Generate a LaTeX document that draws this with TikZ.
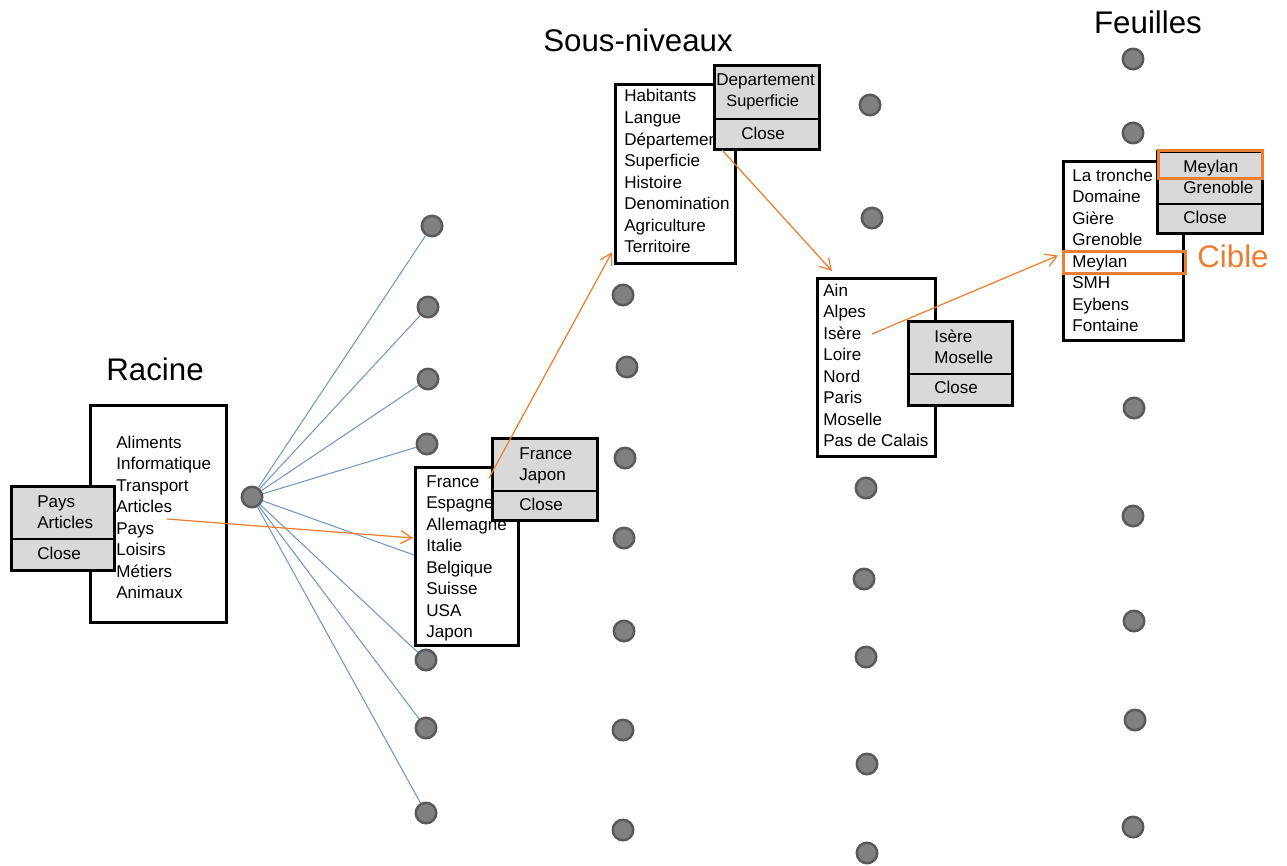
\documentclass[tikz,border=0pt]{standalone}
\usepackage{fontspec}
\setmainfont{Liberation Sans}
\usetikzlibrary{calc,arrows.meta}
\definecolor{orangeoff}{RGB}{237,125,49}
\definecolor{bleulien}{RGB}{114,151,204}
\definecolor{grisfond}{RGB}{217,217,217}
\definecolor{grispoint}{RGB}{128,128,128}
\definecolor{grisbord}{RGB}{89,89,89}
\begin{document}
\begin{tikzpicture}[x=0.02cm,y=-0.02cm,>={Straight Barb[length=2.2mm,width=2.6mm]},
	liste/.style={draw=black, fill=white, line width=1.8pt, anchor=north west, inner sep=0pt},
	menu/.style={draw=black, fill=grisfond, line width=1.8pt, anchor=north west, inner sep=0pt},
	item/.style={anchor=base west, inner sep=0pt, font=\fontsize{9.7}{12}\selectfont},
	titre/.style={inner sep=0pt, font=\fontsize{17.8}{21}\selectfont},
	point/.style={circle, fill=grispoint, draw=grisbord, line width=1.4pt, minimum size=0.41cm, inner sep=0pt},
	lien/.style={draw=bleulien, line width=0.6pt},
	fleche/.style={->, draw=orangeoff, line width=0.7pt},
	cadre/.style={draw=orangeoff, line width=1.7pt, anchor=north west, inner sep=0pt},
	]
	\useasboundingbox (0,0) rectangle (1287,865);
	% ── Boite de liste #1 en (#2,#3), largeur #4, hauteur #5 ──
	\def\boite#1#2#3#4#5{%
		\node[liste, minimum width=#4*0.02cm, minimum height=#5*0.02cm] (#1) at (#2,#3) {};}
	% ── Menu deroulant #1 en (#2,#3), largeur #4, hauteur #5, separation a #6 ──
	\def\sousmenu#1#2#3#4#5#6{%
		\node[menu, minimum width=#4*0.02cm, minimum height=#5*0.02cm] (#1) at (#2,#3) {};
		\draw[line width=0.8pt] ($(#1.north west)+(0,#6)$) -- ($(#1.north east)+(0,#6)$);}
	% ── Elements #4 de la liste #1, premiere ligne de base en (#2,#3) ──
	\def\elements#1#2#3#4{%
		\foreach \nom [count=\i from 0] in {#4}
		\node[item] (#1-\i) at (#2,{#3+\i*21.5}) {\nom};}
	
	% ===================== points et liens =====================
	\node[point] (r0) at (252,497) {};
	\foreach \x/\y [count=\i] in {432/226,428/307,428/379,427/444,426/660,426/728,426/813}
	\node[point] (a\i) at (\x,\y) {};
	\foreach \x/\y [count=\i] in {623/295,627/367,625/458,624/538,624/631,623/730,623/830}
	\node[point] (b\i) at (\x,\y) {};
	\foreach \x/\y [count=\i] in {870/105,872/218,866/488,864/579,866/657,867/764,867/853}
	\node[point] (c\i) at (\x,\y) {};
	\foreach \x/\y [count=\i] in {1133/59,1133/133,1134/408,1133/516,1134/621,1135/720,1133/827}
	\node[point] (d\i) at (\x,\y) {};
	\foreach \i in {1,...,7}
	\draw[lien] (r0) -- (a\i);
	\coordinate (entree) at (414,555);
	\draw[lien] (r0) -- (entree);
	
	% ===================== titres =====================
	\node[titre] (tracine) at (155,369) {Racine};
	\node[titre] (tsous) at (638,40) {Sous-niveaux};
	\node[titre] (tfeuilles) at (1148,22) {Feuilles};
	
	% ===================== racine =====================
	\boite{racine}{89}{404}{136}{217}
	\elements{racine}{116}{448}{Aliments,Informatique,Transport,Articles,Pays,Loisirs,Métiers,Animaux}
	\sousmenu{m1}{10}{485}{103}{84}{54}
	\elements{m1}{37}{507}{Pays,Articles}
	\node[item] (m1-close) at (37,559) {Close};
	
	% ===================== pays =====================
	\boite{france}{414}{466}{103}{178}
	\elements{france}{426}{487}{France,Espagne,Allemagne,Italie,Belgique,Suisse,USA,Japon}
	\sousmenu{m2}{491}{437}{105}{82}{54}
	\elements{m2}{519}{459}{France,Japon}
	\node[item] (m2-close) at (519,510) {Close};
	
	% ===================== sous-niveaux =====================
	\boite{sous}{614}{83}{120}{179}
	\elements{sous}{624}{102}{Habitants,Langue,Département,Superficie,Histoire,Denomination,Agriculture,Territoire}
	\sousmenu{m3}{713}{64}{105}{84}{55}
	\node[item] (m3-0) at (716,86) {Departement};
	\node[item, font=\fontsize{9.3}{11}\selectfont] (m3-1) at (726,107) {Superficie};
	\node[item] (m3-close) at (741,139) {Close};
	
	% ===================== departements =====================
	\boite{ain}{816}{277}{118}{178}
	\elements{ain}{823}{296}{Ain,Alpes,Isère,Loire,Nord,Paris,Moselle,Pas de Calais}
	\sousmenu{m4}{907}{320}{104}{84}{54}
	\elements{m4}{934}{342}{Isère,Moselle}
	\node[item] (m4-close) at (934,393) {Close};
	
	% ===================== feuilles =====================
	\boite{feuilles}{1062}{160}{120}{179}
	\elements{feuilles}{1072}{181}{La tronche,Domaine,Gière,Grenoble,Meylan,SMH,Eybens,Fontaine}
	\sousmenu{m5}{1156}{150}{105}{82}{54}
	\elements{m5}{1183}{172}{Meylan,Grenoble}
	\node[item] (m5-close) at (1183,223) {Close};
	\node[cadre, minimum width=104*0.02cm, minimum height=28*0.02cm] (cible1) at (1157,149) {};
	\node[cadre, minimum width=122*0.02cm, minimum height=22*0.02cm] (cible2) at (1062,250) {};
	\node[titre, text=orangeoff] (cible) at (1233,256) {Cible};
	
	% ===================== chemin de navigation =====================
	\coordinate (s1) at (167,519);
	\coordinate (s2) at (489,478);
	\coordinate (s3) at (722,150);
	\coordinate (s4) at (872,334);
	\draw[fleche] (s1) -- ($(france.north west)+(-1,72)$);
	\draw[fleche] (s2) -- ($(sous.south west)+(-2,-13)$);
	\draw[fleche] (s3) -- ($(ain.north west)+(16,-6)$);
	\draw[fleche] (s4) -- ($(cible2.west)+(-4,-7)$);
	
\end{tikzpicture}
\end{document}
